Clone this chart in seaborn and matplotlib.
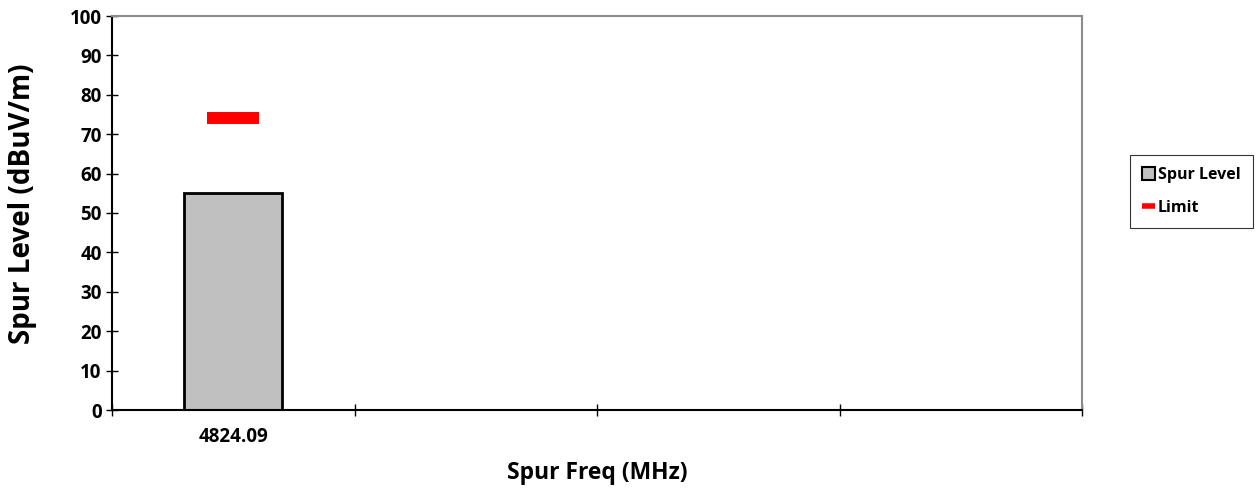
import matplotlib
matplotlib.use("Agg")
import matplotlib.pyplot as plt
import seaborn as sns
import pandas as pd
import numpy as np
from matplotlib.patches import Patch
from matplotlib.lines import Line2D

# chart values
freqs = ["4824.09", "", "", ""]
spur_level = [55.2, np.nan, np.nan, np.nan]
limit = [74.0, np.nan, np.nan, np.nan]

sns.set_theme(style="white")
plt.rcParams["font.family"] = ["Open Sans", "DejaVu Sans"]
plt.rcParams["font.weight"] = "bold"
plt.rcParams["text.color"] = "black"
plt.rcParams["axes.labelcolor"] = "black"
plt.rcParams["xtick.color"] = "black"
plt.rcParams["ytick.color"] = "black"

slots = list(range(len(freqs)))
df = pd.DataFrame({"slot": slots, "level": spur_level, "limit": limit})

fig = plt.figure(figsize=(12.6, 4.96), dpi=100)
ax = fig.add_axes([112 / 1260, 86 / 496, 970 / 1260, 394 / 496])

sns.barplot(data=df, x="slot", y="level", order=slots, color="#c0c0c0",
            edgecolor="black", linewidth=2, width=0.405, saturation=1,
            native_scale=True, ax=ax)
sns.scatterplot(data=df, x="slot", y="limit", marker="_", s=38 ** 2,
                color="#ff0000", linewidth=8.6, ax=ax, legend=False)

ax.set_xlim(-0.5, len(freqs) - 0.5)
ax.set_ylim(0, 100)
ax.set_yticks(range(0, 101, 10))
ax.set_yticklabels([str(v) for v in range(0, 101, 10)], fontsize=13.5,
                   fontweight="bold")

# category boundaries as major ticks, labels at centres
ax.set_xticks(np.arange(-0.5, len(freqs), 1.0))
ax.set_xticklabels([])
ax.set_xticks(slots, minor=True)
ax.set_xticklabels(freqs, minor=True, fontsize=13.5, fontweight="bold")
ax.tick_params(axis="x", which="minor", length=0, pad=12)
ax.tick_params(axis="both", which="major", direction="inout", length=9,
               width=1, color="black", left=True, bottom=True)
ax.tick_params(axis="y", pad=3)

for side in ["left", "bottom"]:
    ax.spines[side].set_color("black")
    ax.spines[side].set_linewidth(1.5)
for side in ["top", "right"]:
    ax.spines[side].set_color("#8c8c8c")
    ax.spines[side].set_linewidth(1.5)

ax.set_xlabel("Spur Freq (MHz)", fontsize=16.5, fontweight="bold", labelpad=10)
ax.set_ylabel("Spur Level (dBuV/m)", fontsize=20, fontweight="bold")
ax.yaxis.set_label_coords(-0.077, 0.523)

handles = [
    Patch(facecolor="#c0c0c0", edgecolor="black", linewidth=1.5, label="Spur Level"),
    Line2D([0], [0], color="#ff0000", linewidth=4, solid_capstyle="butt",
           label="Limit"),
]
leg = fig.legend(handles=handles, loc="upper left",
                 bbox_to_anchor=(1130 / 1260, 1 - 155 / 496),
                 fancybox=False, frameon=True, edgecolor="black",
                 prop={"weight": "bold", "size": 11.5},
                 handlelength=0.8, handleheight=0.8, handletextpad=0.2,
                 borderpad=0.75, labelspacing=1.05, borderaxespad=0)
leg.get_frame().set_linewidth(0.8)

fig.savefig("out.png", dpi=100, facecolor="white")
